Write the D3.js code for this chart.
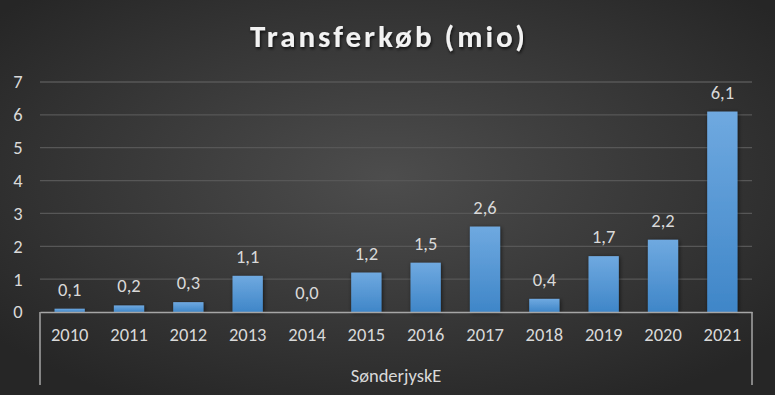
<!DOCTYPE html>
<html>
<head>
<meta charset="utf-8">
<script src="https://cdn.jsdelivr.net/npm/d3@7"></script>
<style>
  html, body { margin: 0; padding: 0; background: #2b2b2b; }
  svg { display: block; }
  text { font-family: Calibri, Carlito, "Open Sans", "Liberation Sans", sans-serif; }
</style>
</head>
<body>
<div id="chart"></div>
<script>
var years = ['2010', '2011', '2012', '2013', '2014', '2015', '2016', '2017', '2018', '2019', '2020', '2021'];
var values = [0.1, 0.2, 0.3, 1.1, 0.0, 1.2, 1.5, 2.6, 0.4, 1.7, 2.2, 6.1];
var yTicks = [0, 1, 2, 3, 4, 5, 6, 7];
var groupLabel = 'SønderjyskE';
var title = 'Transferkøb (mio)';

var W = 775, H = 395;
var mLeft = 40, mRight = 752, mTop = 82, mBottom = 312;

var svg = d3.select('#chart').append('svg')
    .attr('width', W)
    .attr('height', H);

var defs = svg.append('defs');
var bg = defs.append('radialGradient').attr('id', 'bg')
    .attr('cx', '50%').attr('cy', '45%').attr('r', '65%');
bg.append('stop').attr('offset', '0%').attr('stop-color', '#4d4d4d');
bg.append('stop').attr('offset', '100%').attr('stop-color', '#262626');

var bar = defs.append('linearGradient').attr('id', 'bar')
    .attr('x1', 0).attr('y1', 0).attr('x2', 0).attr('y2', 1);
bar.append('stop').attr('offset', '0%').attr('stop-color', '#6fa9e0');
bar.append('stop').attr('offset', '100%').attr('stop-color', '#3f86c8');

var sh = defs.append('filter').attr('id', 'sh')
    .attr('x', '-30%').attr('y', '-10%').attr('width', '160%').attr('height', '130%');
sh.append('feDropShadow').attr('dx', 1).attr('dy', 1).attr('stdDeviation', 2)
    .attr('flood-color', '#000').attr('flood-opacity', 0.6);

var tsh = defs.append('filter').attr('id', 'tsh');
tsh.append('feDropShadow').attr('dx', 1).attr('dy', 2).attr('stdDeviation', 1.5)
    .attr('flood-color', '#000').attr('flood-opacity', 0.7);

svg.append('rect').attr('width', W).attr('height', H).attr('fill', 'url(#bg)');

var x = d3.scaleBand().domain(years).range([mLeft, mRight]).paddingInner(0.49).paddingOuter(0.245);
var y = d3.scaleLinear().domain([0, 7]).range([mBottom, mTop]);

// gridlines
svg.append('g').selectAll('line')
    .data(yTicks.slice(1))
    .join('line')
      .attr('x1', mLeft).attr('x2', mRight)
      .attr('y1', function(d) { return y(d); })
      .attr('y2', function(d) { return y(d); })
      .attr('stroke', '#575757')
      .attr('stroke-width', 1.3);

// y axis labels
var yAxis = svg.append('g')
    .attr('transform', 'translate(' + (mLeft - 22) + ',0)')
    .call(d3.axisLeft(y).tickValues(yTicks).tickFormat(d3.format('d')).tickSize(0).tickPadding(0));
yAxis.select('.domain').remove();
yAxis.selectAll('text')
    .attr('fill', '#d9d9d9')
    .attr('font-size', 18.5)
    .attr('text-anchor', 'middle');

// bars
svg.append('g').selectAll('rect')
    .data(values)
    .join('rect')
      .attr('x', function(d, i) { return x(years[i]); })
      .attr('y', function(d) { return y(d); })
      .attr('width', x.bandwidth())
      .attr('height', function(d) { return mBottom - y(d); })
      .attr('fill', 'url(#bar)')
      .attr('filter', 'url(#sh)');

// value labels
svg.append('g').selectAll('text')
    .data(values)
    .join('text')
      .attr('x', function(d, i) { return x(years[i]) + x.bandwidth() / 2; })
      .attr('y', function(d) { return y(d) - 13; })
      .attr('text-anchor', 'middle')
      .attr('fill', '#d9d9d9')
      .attr('font-size', 18.5)
      .text(function(d) { return d.toFixed(1).replace('.', ','); });

// x axis
var xAxis = svg.append('g')
    .attr('transform', 'translate(0,' + mBottom + ')')
    .call(d3.axisBottom(x).tickSize(0).tickPadding(16));
xAxis.select('.domain').attr('stroke', '#a6a6a6').attr('stroke-width', 1.5);
xAxis.selectAll('text')
    .attr('fill', '#d9d9d9')
    .attr('font-size', 18.5);

// group bracket lines
svg.append('g').selectAll('line')
    .data([mLeft, mRight])
    .join('line')
      .attr('x1', function(d) { return d; }).attr('x2', function(d) { return d; })
      .attr('y1', mBottom).attr('y2', 385)
      .attr('stroke', '#a6a6a6')
      .attr('stroke-width', 1.5);

svg.append('text')
    .attr('x', (mLeft + mRight) / 2)
    .attr('y', 382)
    .attr('text-anchor', 'middle')
    .attr('fill', '#d9d9d9')
    .attr('font-size', 18.5)
    .text(groupLabel);

svg.append('text')
    .attr('x', 389)
    .attr('y', 47)
    .attr('text-anchor', 'middle')
    .attr('fill', '#f2f2f2')
    .attr('font-size', 31)
    .attr('font-weight', 'bold')
    .attr('letter-spacing', '3px')
    .attr('filter', 'url(#tsh)')
    .text(title);
</script>
</body>
</html>
